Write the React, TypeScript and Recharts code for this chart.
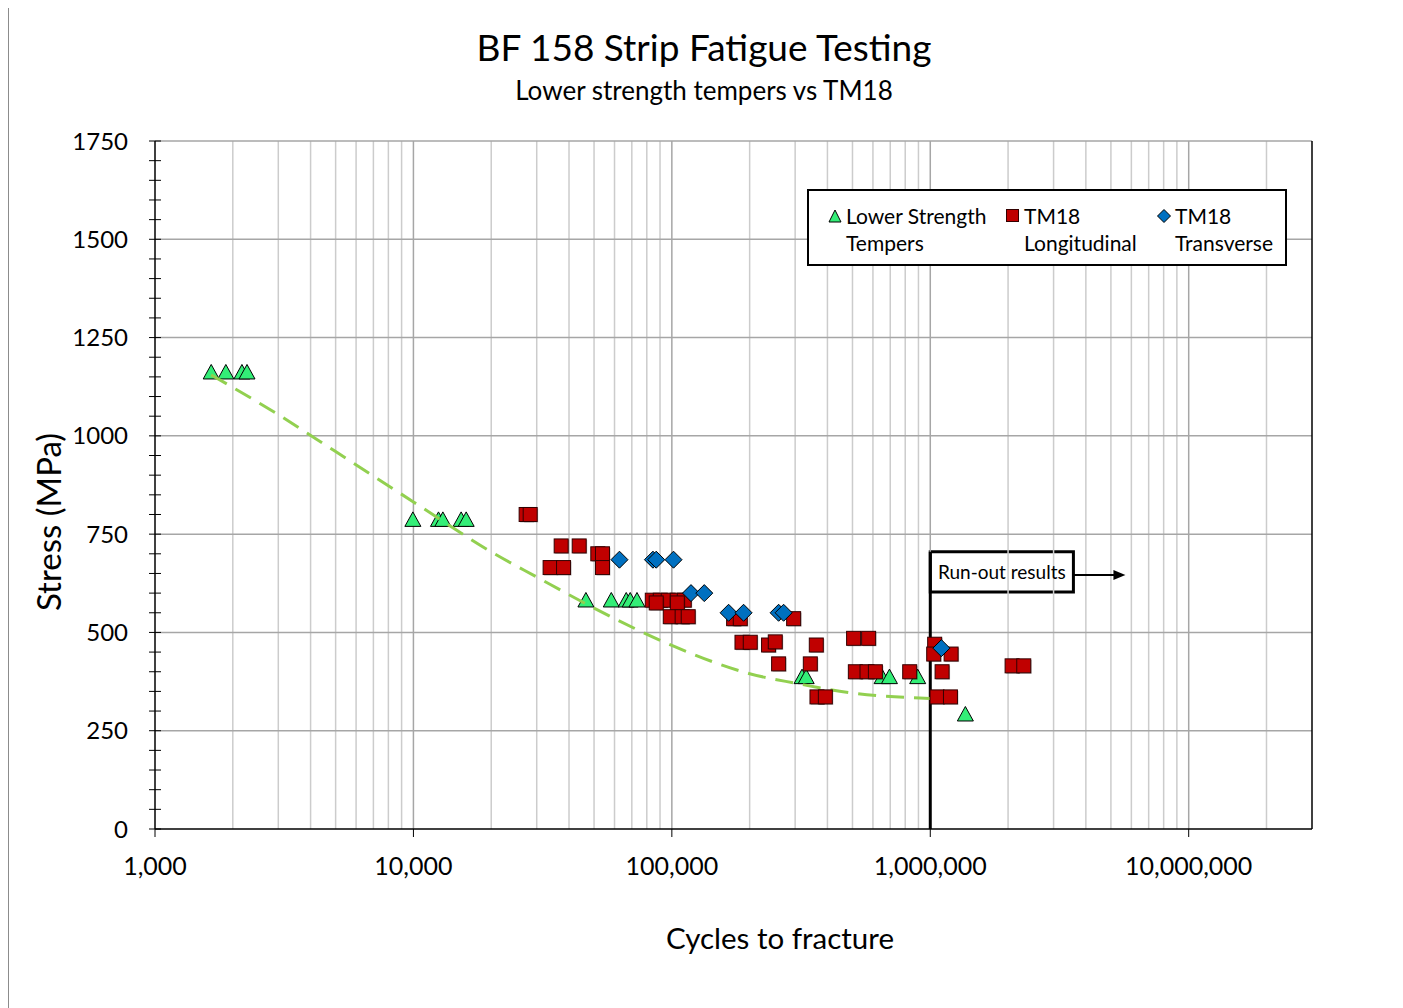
import React from 'react';
import { ScatterChart, Scatter, XAxis, YAxis, ReferenceLine, ReferenceArea } from 'recharts';

// Lower strength tempers: [cycles, stress MPa]
const lowerStrength = [
  [1650, 1160], [1880, 1160], [2170, 1160], [2270, 1160],
  [9950, 785], [12500, 785], [13000, 785], [15300, 785], [16000, 785],
  [46500, 580], [58300, 580], [66600, 580], [69000, 580], [73300, 580],
  [319000, 385], [331000, 385], [651000, 385], [695000, 385], [894000, 385],
  [1367000, 290],
];

const tm18Long = [
  [27300, 800], [28300, 800],
  [37300, 720], [43800, 720],
  [33800, 665], [38100, 665],
  [51700, 700], [53900, 700], [53900, 665],
  [84000, 582], [90200, 582], [96800, 582], [104900, 582], [111700, 582],
  [87000, 575], [105000, 575],
  [98600, 540], [109600, 540], [115700, 540],
  [173400, 535], [184000, 535], [296000, 535],
  [186800, 475], [201100, 475],
  [236700, 468], [251300, 476],
  [258900, 420], [343400, 420],
  [362200, 468],
  [364400, 336], [392600, 336],
  [505000, 485], [577300, 485],
  [512900, 400], [569100, 400], [613200, 400], [832500, 400],
  [1040000, 470], [1031000, 445], [1204000, 445], [1111000, 400],
  [1062000, 336], [1197000, 336],
  [2073000, 415], [2300000, 415],
];

const tm18Trans = [
  [62700, 685], [84500, 685], [87000, 685], [101500, 685],
  [118600, 600], [133500, 600],
  [165800, 550], [189500, 550], [258900, 550], [270700, 550],
  [1104000, 460],
];

// dashed trend line
const trend = [
  [1650, 1155], [3000, 1054], [5000, 960], [10000, 832], [20000, 705],
  [30000, 641], [50000, 562], [100000, 467], [200000, 395], [300000, 371],
  [500000, 346], [1000000, 332],
];

const xMajor = [1000, 10000, 100000, 1000000, 10000000];
const xMinor = [
  2000, 3000, 4000, 5000, 6000, 7000, 8000, 9000,
  20000, 30000, 40000, 50000, 60000, 70000, 80000, 90000,
  200000, 300000, 400000, 500000, 600000, 700000, 800000, 900000,
  2000000, 3000000, 4000000, 5000000, 6000000, 7000000, 8000000, 9000000,
  20000000,
];
const yTicks = [
  0, 50, 100, 150, 200, 250, 300, 350, 400, 450, 500, 550, 600, 650, 700, 750, 800, 850,
  900, 950, 1000, 1050, 1100, 1150, 1200, 1250, 1300, 1350, 1400, 1450, 1500, 1550, 1600,
  1650, 1700, 1750,
];
const yGrid = [250, 500, 750, 1000, 1250, 1500, 1750];

const toPts = (arr: number[][]) => arr.map(([x, y]) => ({ x, y }));

const FONT = 'Lato, "Open Sans", sans-serif';
const GREEN = '#33EE77';
const RED = '#C00000';
const BLUE = '#0070C0';

const Triangle = (p: any) => (
  <polygon
    points={`${p.cx},${p.cy - 8.5} ${p.cx - 8},${p.cy + 6} ${p.cx + 8},${p.cy + 6}`}
    fill={GREEN} stroke="#000" strokeWidth={1}
  />
);
const Square = (p: any) => (
  <g>
    <rect x={p.cx - 6} y={p.cy - 6} width={14} height={14} fill="#000" opacity={0.25} />
    <rect x={p.cx - 7} y={p.cy - 7} width={14} height={14} fill={RED} stroke="#300" strokeWidth={1} />
  </g>
);
const Diamond = (p: any) => (
  <polygon
    points={`${p.cx},${p.cy - 8.5} ${p.cx + 8.5},${p.cy} ${p.cx},${p.cy + 8.5} ${p.cx - 8.5},${p.cy}`}
    fill={BLUE} stroke="#000" strokeWidth={1}
  />
);
const NoDot = () => <g />;

const YTick = (props: any) => {
  const { x, y, payload } = props;
  const ax = x + 27;
  return (
    <g>
      <line x1={ax - 6} x2={ax + 6} y1={y} y2={y} stroke="#000" strokeWidth={1} />
      {payload.value % 250 === 0 && (
        <text x={x} y={y} dy="0.36em" textAnchor="end" fontSize={24} fill="#000" fontFamily={FONT}>
          {payload.value}
        </text>
      )}
    </g>
  );
};

const Arrow = (p: any) => (
  <g>
    <line x1={p.x1} y1={p.y1} x2={p.x2 - 10} y2={p.y2} stroke="#000" strokeWidth={2} />
    <polygon points={`${p.x2},${p.y2} ${p.x2 - 12},${p.y2 - 5} ${p.x2 - 12},${p.y2 + 5}`} fill="#000" />
  </g>
);

const legendText: React.CSSProperties = { fontSize: 21, lineHeight: '27px', color: '#000', whiteSpace: 'nowrap' };

export default function App() {
  return (
    <div
      style={{
        position: 'relative', width: 1390, height: 1010, marginTop: -2,
        border: '1px solid #8c8c8c', background: '#fff', fontFamily: FONT, overflow: 'hidden',
      }}
    >
      <div style={{ position: 'absolute', top: 19, left: 0, width: 1390, textAlign: 'center', fontSize: 37, lineHeight: '42px' }}>
        BF 158 Strip Fatigue Testing
      </div>
      <div style={{ position: 'absolute', top: 68, left: 0, width: 1390, textAlign: 'center', fontSize: 26, lineHeight: '30px' }}>
        Lower strength tempers vs TM18
      </div>
      <div
        style={{
          position: 'absolute', left: 39, top: 515, transform: 'translate(-50%, -50%) rotate(-90deg)',
          whiteSpace: 'nowrap', fontSize: 33, lineHeight: '38px',
        }}
      >
        Stress (MPa)
      </div>
      <div
        style={{
          position: 'absolute', left: 771, top: 931, transform: 'translate(-50%, -50%)',
          whiteSpace: 'nowrap', fontSize: 29.5, lineHeight: '34px',
        }}
      >
        Cycles to fracture
      </div>

      <ScatterChart width={1389} height={1000} margin={{ top: 134, right: 86, bottom: 118, left: 0 }}>
        <XAxis
          type="number" dataKey="x" scale="log" domain={[1000, 30000000]} allowDataOverflow
          ticks={xMajor} interval={0} tickSize={8} tickMargin={20} height={60}
          tickFormatter={(v: number) => v.toLocaleString('en-US')}
          tick={{ fontSize: 25, fill: '#000', fontFamily: FONT }}
          axisLine={{ stroke: '#000', strokeWidth: 1.5 }} tickLine={{ stroke: '#000' }}
        />
        <YAxis
          type="number" dataKey="y" domain={[0, 1750]} ticks={yTicks} interval={0}
          width={146} tickSize={6} tickMargin={21} tickLine={false}
          tick={<YTick />} axisLine={{ stroke: '#000', strokeWidth: 1.5 }}
        />
        {xMinor.map((v) => (
          <ReferenceLine key={'mn' + v} x={v} stroke="#cccccc" strokeWidth={1.5} />
        ))}
        {xMajor.slice(1).map((v) => (
          <ReferenceLine key={'mj' + v} x={v} stroke="#a6a6a6" strokeWidth={1.5} />
        ))}
        {yGrid.map((v) => (
          <ReferenceLine key={'gy' + v} y={v} stroke="#a6a6a6" strokeWidth={1.5} />
        ))}
        <ReferenceLine x={30000000} stroke="#000" strokeWidth={1.5} ifOverflow="visible" />

        <ReferenceLine segment={[{ x: 1000000, y: 0 }, { x: 1000000, y: 705 }]} stroke="#000" strokeWidth={3} />
        <ReferenceArea
          x1={1000000} x2={3580000} y1={603} y2={705} fill="#fff" fillOpacity={1}
          stroke="#000" strokeWidth={3}
          label={{ value: 'Run-out results', position: 'center', fontSize: 19, fill: '#000', fontFamily: FONT }}
        />
        <ReferenceLine segment={[{ x: 3580000, y: 646 }, { x: 5690000, y: 646 }]} shape={<Arrow />} />

        <Scatter data={toPts(lowerStrength)} shape={<Triangle />} isAnimationActive={false} />
        <Scatter
          data={toPts(trend)} shape={<NoDot />} line={{ stroke: '#92D050', strokeWidth: 3, strokeDasharray: '18 10' }}
          lineJointType="monotoneX" isAnimationActive={false}
        />
        <Scatter data={toPts(tm18Long)} shape={<Square />} isAnimationActive={false} />
        <Scatter data={toPts(tm18Trans)} shape={<Diamond />} isAnimationActive={false} />
      </ScatterChart>

      <div
        style={{
          position: 'absolute', left: 798, top: 182, width: 476, height: 73,
          border: '2px solid #000', background: '#fff',
        }}
      >
        <div style={{ position: 'absolute', left: 19, top: 11, display: 'flex' }}>
          <svg width={14} height={14} style={{ marginTop: 7, marginRight: 4 }}>
            <polygon points="7,1 1,13 13,13" fill={GREEN} stroke="#000" strokeWidth={1} />
          </svg>
          <div style={legendText}>Lower Strength<br />Tempers</div>
        </div>
        <div style={{ position: 'absolute', left: 197, top: 11, display: 'flex' }}>
          <svg width={13} height={14} style={{ marginTop: 7, marginRight: 5 }}>
            <rect x={0.5} y={0.5} width={12} height={12} fill={RED} stroke="#300" strokeWidth={1} />
          </svg>
          <div style={legendText}>TM18<br />Longitudinal</div>
        </div>
        <div style={{ position: 'absolute', left: 348, top: 11, display: 'flex' }}>
          <svg width={14} height={14} style={{ marginTop: 7, marginRight: 4 }}>
            <polygon points="7,0.5 13.5,7 7,13.5 0.5,7" fill={BLUE} stroke="#000" strokeWidth={1} />
          </svg>
          <div style={legendText}>TM18<br />Transverse</div>
        </div>
      </div>
    </div>
  );
}
